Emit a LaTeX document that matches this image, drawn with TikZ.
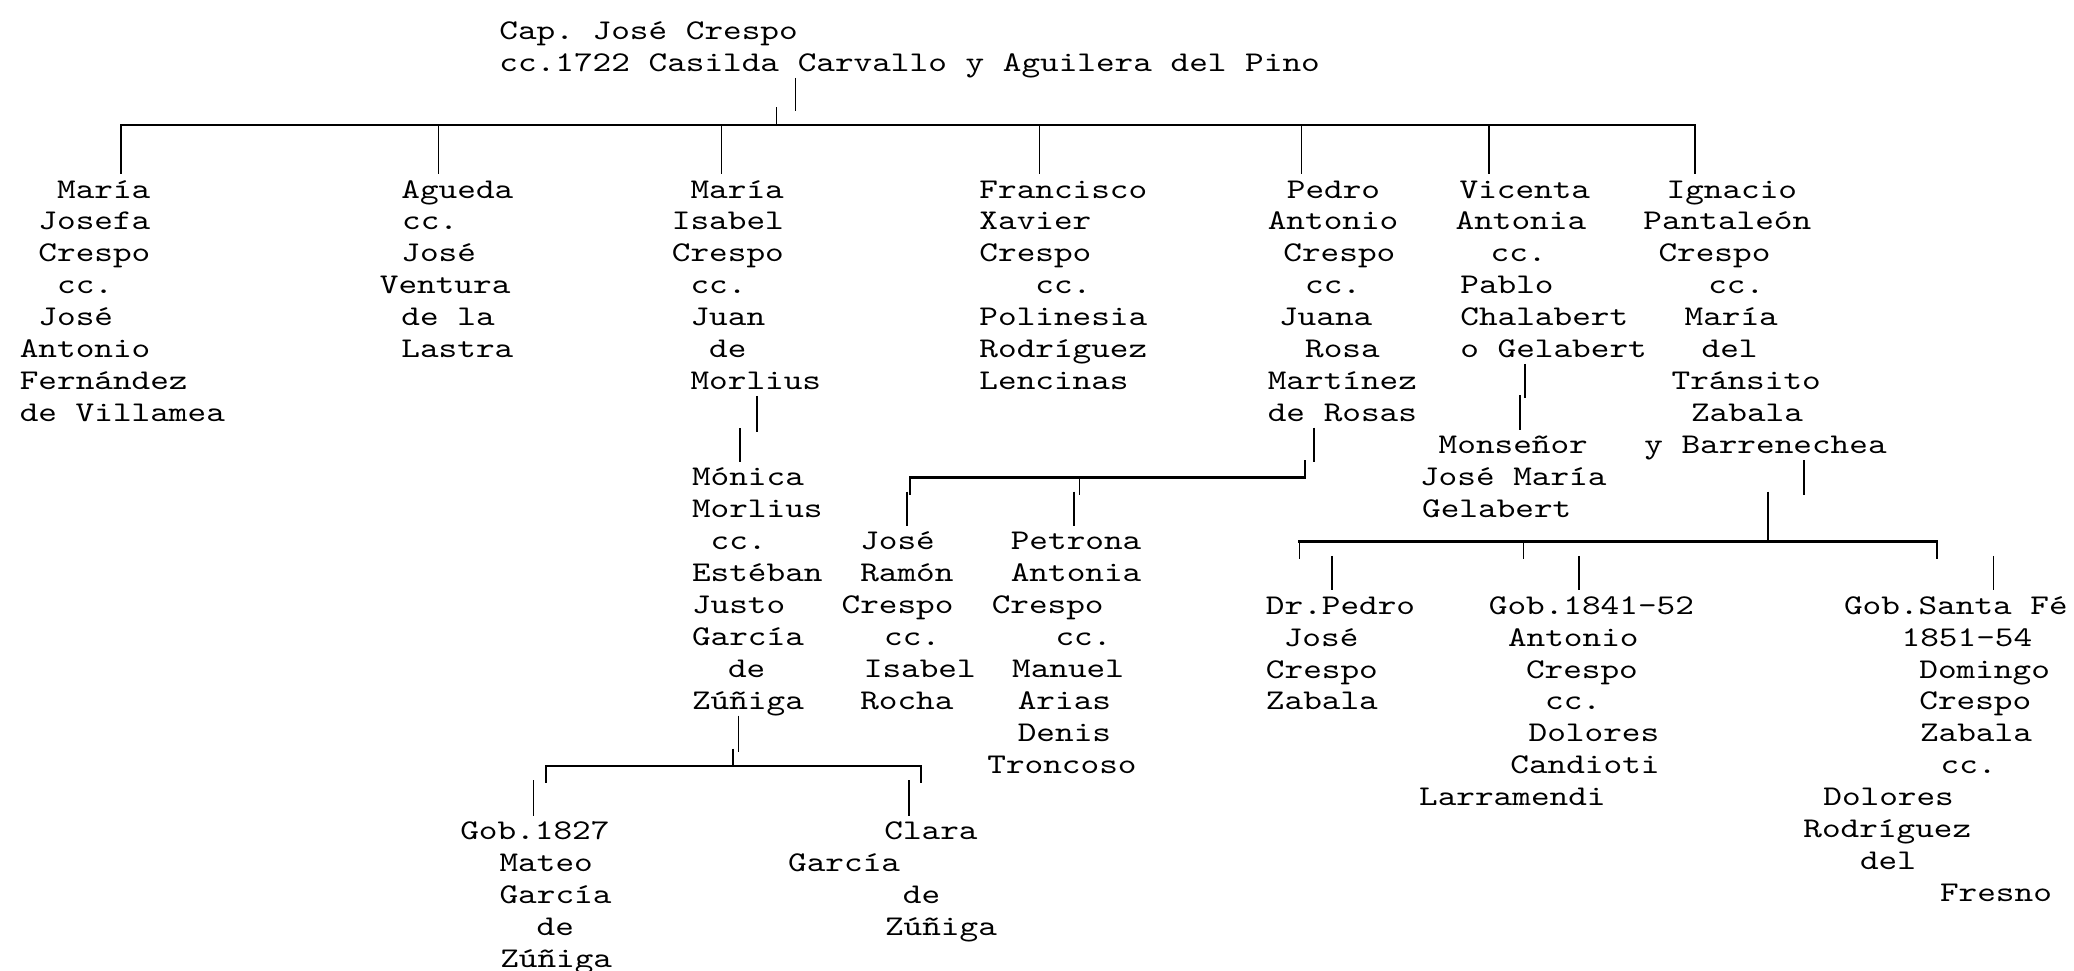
\documentclass[tikz,border=0pt]{standalone}
\usepackage{fontspec}
\setmonofont{lmmono10-regular.otf}[FakeStretch=1.243]
\newlength\uu
\setlength\uu{0.5pt}
\newcommand\ind[1]{\hspace*{#1\uu}}
\newcommand\topl{\rule{0pt}{9pt}}
\newcommand\botl{\rule[-2.3pt]{0pt}{2.3pt}}
\newcommand\pfont{\ttfamily\fontsize{10.8pt}{12.075pt}\selectfont\frenchspacing}
\tikzset{
  person/.style={anchor=north west, inner sep=0pt, outer sep=0pt, align=left, font=\pfont, text=black},
  conn/.style={line width=0.6pt, draw=black},
  bus/.style={line width=0.85pt, draw=black, line cap=rect},
}
\begin{document}
\begin{tikzpicture}[x=0.5pt,y=-0.5pt]
\fill[white] (0,0) rectangle (1568,734);
\useasboundingbox (0,0) rectangle (1568,734);

% ---------- nodes ----------
\node[person] (cp) at (377.6,11.7) {\topl Cap. José Crespo\\cc.1722 Casilda Carvallo y Aguilera del Pino\botl};

\node[person] (mj) at (15.0,131.7) {\topl\ind{28.2}María\\\ind{14.1}Josefa\\\ind{14.1}Crespo\\\ind{28.2}cc.\\\ind{14.1}José\\Antonio\\Fernández\\de Villamea};
\node[person] (ag) at (287.2,131.7) {\topl\ind{16.3}Agueda\\\ind{16.8}cc.\\\ind{16.3}José\\Ventura\\\ind{16.3}de la\\\ind{16.3}Lastra};
\node[person] (mi) at (508,131.7) {\topl\ind{14.1}María\\Isabel\\Crespo\\\ind{14.1}cc.\\\ind{14.1}Juan\\\ind{28.2}de\\\ind{14.1}Morlius\botl};
\node[person] (fx) at (740.5,131.7) {\topl Francisco\\Xavier\\Crespo\\\ind{42.3}cc.\\Polinesia\\Rodríguez\\Lencinas};
\node[person] (pa) at (958.5,131.7) {\topl\ind{14.4}Pedro\\Antonio\\\ind{11.8}Crespo\\\ind{28.2}cc.\\\ind{8.5}Juana\\\ind{28.2}Rosa\\Martínez\\de Rosas\botl};
\node[person] (va) at (1100.5,131.7) {\topl\ind{3}Vicenta\\Antonia\\\ind{26.5}cc.\\\ind{3.6}Pablo\\\ind{3.6}Chalabert\\\ind{3.6}o Gelabert\botl};
\node[person] (ip) at (1242.5,131.7) {\topl\ind{17.5}Ignacio\\Pantaleón\\\ind{11.4}Crespo\\\ind{49}cc.\\\ind{31.1}María\\\ind{44}del\\\ind{21.3}Tránsito\\\ind{36}Zabala\\\ind{0.6}y Barrenechea\botl};

\node[person] (mon) at (1073.6,325.2) {\topl\ind{14.1}Monseñor\\José María\\\ind{1.6}Gelabert};
\node[person] (mo) at (523.2,349) {\topl Mónica\\Morlius\\\ind{14.1}cc.\\Estéban\\Justo\\García\\\ind{27.2}de\\Zúñiga\botl};
\node[person] (jr) at (636.3,397.7) {\topl\ind{14.1}José\\\ind{14.1}Ramón\\Crespo\\\ind{32.2}cc.\\\ind{16.8}Isabel\\\ind{14.1}Rocha};
\node[person] (pe) at (746.5,397.7) {\topl\ind{17.7}Petrona\\\ind{17.7}Antonia\\\ind{3.3}Crespo\\\ind{51.5}cc.\\\ind{18.7}Manuel\\\ind{23}Arias\\\ind{23}Denis\\Troncoso};

\node[person] (dp) at (957.1,446.3) {\topl Dr.Pedro\\\ind{13.5}José\\Crespo\\Zabala};
\node[person] (ga) at (1072.9,446.3) {\topl\ind{52.7}Gob.1841-52\\\ind{67.2}Antonio\\\ind{80.8}Crespo\\\ind{95.3}cc.\\\ind{82.8}Dolores\\\ind{69}Candioti\\Larramendi};
\node[person] (gd) at (1363.4,446.3) {\topl\ind{30.7}Gob.Santa Fé\\\ind{74.3}1851-54\\\ind{87.7}Domingo\\\ind{87.7}Crespo\\\ind{88.2}Zabala\\\ind{103.8}cc.\\\ind{15.1}Dolores\\Rodríguez\\\ind{42.8}del\\\ind{103.3}Fresno};

\node[person] (gm) at (348.0,616.9) {\topl Gob.1827\\\ind{29.7}Mateo\\\ind{29.7}García\\\ind{57.7}de\\\ind{30.2}Zúñiga};
\node[person] (cl) at (595.9,616.9) {\topl\ind{72.7}Clara\\García\\\ind{86.7}de\\\ind{73.2}Zúñiga};

% ---------- family of cp ----------
\coordinate (A0) at (601.5,84);
\coordinate (A1t) at (587,81);
\coordinate (A1) at (587,94.5);
\coordinate (Dmj) at (91.5,94.5);
\coordinate (Dag) at (331.5,94.5);
\coordinate (Dmi) at (545.4,94.5);
\coordinate (Dfx) at (785.9,94.5);
\coordinate (Dpa) at (984.1,94.5);
\coordinate (Dva) at (1125.5,94.5);
\coordinate (Dip) at (1281.5,94.5);
\draw[conn] (cp.south -| A0) -- (A0);
\draw[conn] (A1t) -- (A1);
\draw[bus] (Dmj) -- (Dip);
\foreach \c/\n in {Dmj/mj,Dag/ag,Dmi/mi,Dfx/fx,Dpa/pa,Dva/va,Dip/ip}
  \draw[conn] (\c) -- (\c |- \n.north);

% ---------- mi -> mo ----------
\coordinate (B0) at (572.5,326.4);
\coordinate (B1t) at (559.3,323.8);
\draw[conn] (mi.south -| B0) -- (B0);
\draw[conn] (B1t) -- (B1t |- mo.north);

% ---------- mo -> gm, cl ----------
\coordinate (C0) at (558.4,568.2);
\coordinate (C1t) at (554,566);
\coordinate (C1) at (554,579);
\coordinate (CL) at (412.6,579);
\coordinate (CR) at (696.4,579);
\coordinate (CLb) at (412.6,592.2);
\coordinate (CRb) at (696.4,592.2);
\coordinate (Cgm) at (403.4,589.7);
\coordinate (Ccl) at (687.4,589.7);
\draw[conn] (mo.south -| C0) -- (C0);
\draw[conn] (C1t) -- (C1);
\draw[bus] (CL) -- (CR);
\draw[conn] (CL) -- (CLb);
\draw[conn] (CR) -- (CRb);
\draw[conn] (Cgm) -- (Cgm |- gm.north);
\draw[conn] (Ccl) -- (Ccl |- cl.north);

% ---------- pa -> jr, pe ----------
\coordinate (E0) at (993.2,349.5);
\coordinate (E1t) at (986.6,347.8);
\coordinate (E1) at (986.6,361);
\coordinate (EL) at (688.1,361);
\coordinate (EM) at (816,361);
\coordinate (ELb) at (688.1,374.2);
\coordinate (EMb) at (816,374.2);
\coordinate (Ejr) at (685.5,371.7);
\coordinate (Epe) at (812.1,371.7);
\draw[conn] (pa.south -| E0) -- (E0);
\draw[conn] (E1t) -- (E1);
\draw[bus] (EL) -- (E1);
\draw[conn] (EL) -- (ELb);
\draw[conn] (EM) -- (EMb);
\draw[conn] (Ejr) -- (Ejr |- jr.north);
\draw[conn] (Epe) -- (Epe |- pe.north);

% ---------- va -> mon ----------
\coordinate (V0) at (1153,301.2);
\coordinate (V1t) at (1149,298.7);
\draw[conn] (va.south -| V0) -- (V0);
\draw[conn] (V1t) -- (V1t |- mon.north);

% ---------- ip -> dp, ga, gd ----------
\coordinate (F0) at (1363.8,374.3);
\coordinate (F1t) at (1336.5,371.7);
\coordinate (F1) at (1336.5,409.3);
\coordinate (FL) at (982.5,409.3);
\coordinate (FM) at (1151.7,409.3);
\coordinate (FR) at (1464.2,409.3);
\coordinate (FLb) at (982.5,422.3);
\coordinate (FMb) at (1151.7,422.3);
\coordinate (FRb) at (1464.2,422.8);
\coordinate (Fdp) at (1007.2,420.3);
\coordinate (Fga) at (1193.8,420.3);
\coordinate (Fgd) at (1507,420.3);
\draw[conn] (ip.south -| F0) -- (F0);
\draw[conn] (F1t) -- (F1);
\draw[bus] (FL) -- (FR);
\draw[conn] (FL) -- (FLb);
\draw[conn] (FM) -- (FMb);
\draw[conn] (FR) -- (FRb);
\draw[conn] (Fdp) -- (Fdp |- dp.north);
\draw[conn] (Fga) -- (Fga |- ga.north);
\draw[conn] (Fgd) -- (Fgd |- gd.north);
\end{tikzpicture}
\end{document}
